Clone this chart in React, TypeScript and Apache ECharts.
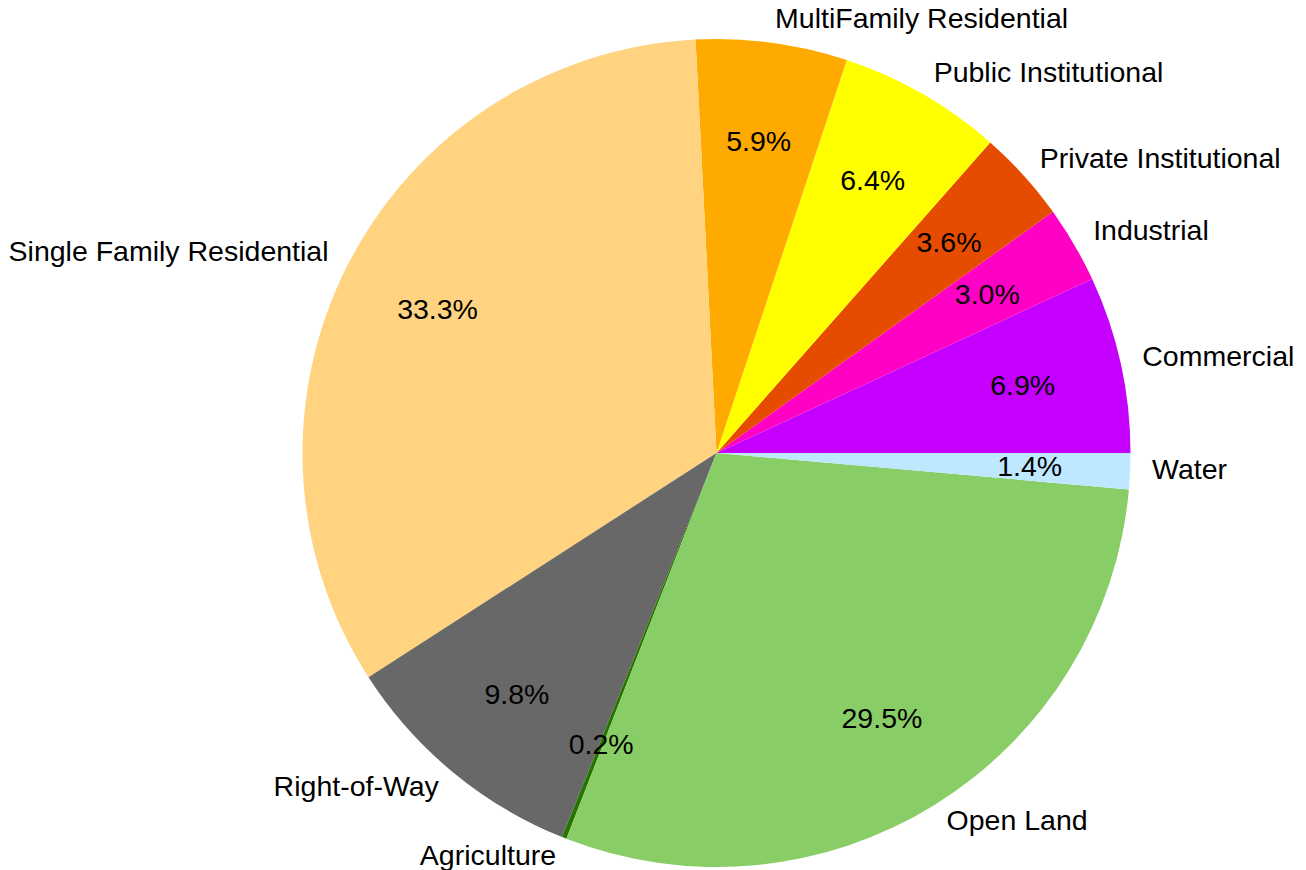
import React, { useEffect, useRef } from "react";
import * as echarts from "echarts";

const categories = [
  "Commercial",
  "Industrial",
  "Private Institutional",
  "Public Institutional",
  "MultiFamily Residential",
  "Single Family Residential",
  "Right-of-Way",
  "Agriculture",
  "Open Land",
  "Water",
];
const shares = [6.9, 3.0, 3.6, 6.4, 5.9, 33.3, 9.8, 0.18, 29.5, 1.4];
const colors = [
  "#C500FF",
  "#FF00C5",
  "#E64C00",
  "#FFFF00",
  "#FFAA00",
  "#FFD37F",
  "#686868",
  "#267300",
  "#89CD66",
  "#BEE8FF",
];

const FONT = "'Liberation Sans', Arial, sans-serif";
const FONT_SIZE = 28.5;
const CX = 716.5;
const CY = 453;
const R = 414;

export default function App() {
  const ref = useRef<HTMLDivElement>(null);
  useEffect(() => {
    if (!ref.current) return;
    const chart = echarts.init(ref.current, undefined, { renderer: "svg" });
    const total = shares.reduce((a, b) => a + b, 0);
    const data = categories.map((name, i) => ({
      name,
      value: shares[i],
      itemStyle: { color: colors[i] },
    }));
    chart.setOption({
      animation: false,
      backgroundColor: "#ffffff",
      series: [
        {
          type: "pie",
          center: [CX, CY],
          radius: [0, R],
          startAngle: 0,
          clockwise: false,
          avoidLabelOverlap: false,
          silent: true,
          data,
          label: {
            show: true,
            position: "outside",
            alignTo: "none",
            distanceToLabelLine: 0,
            fontFamily: FONT,
            fontSize: FONT_SIZE,
            color: "#000000",
            formatter: "{b}",
          },
          labelLayout: { dy: -3 },
          labelLine: { show: false, length: 22, length2: 0 },
        },
        {
          type: "pie",
          center: [CX, CY],
          radius: [R * 0.5, R],
          startAngle: 0,
          clockwise: false,
          avoidLabelOverlap: false,
          silent: true,
          z: 5,
          data: categories.map((name, i) => ({
            name,
            value: shares[i],
            itemStyle: { color: "rgba(0,0,0,0)" },
          })),
          label: {
            show: true,
            position: "inside",
            fontFamily: FONT,
            fontSize: FONT_SIZE,
            color: "#000000",
            formatter: (p: any) => ((p.value / total) * 100).toFixed(1) + "%",
          },
          labelLayout: { dy: -1 },
          labelLine: { show: false },
        },
      ],
    });
    return () => chart.dispose();
  }, []);
  return (
    <div
      ref={ref}
      style={{ position: "fixed", left: 0, top: 0, width: 1306, height: 870 }}
    />
  );
}
